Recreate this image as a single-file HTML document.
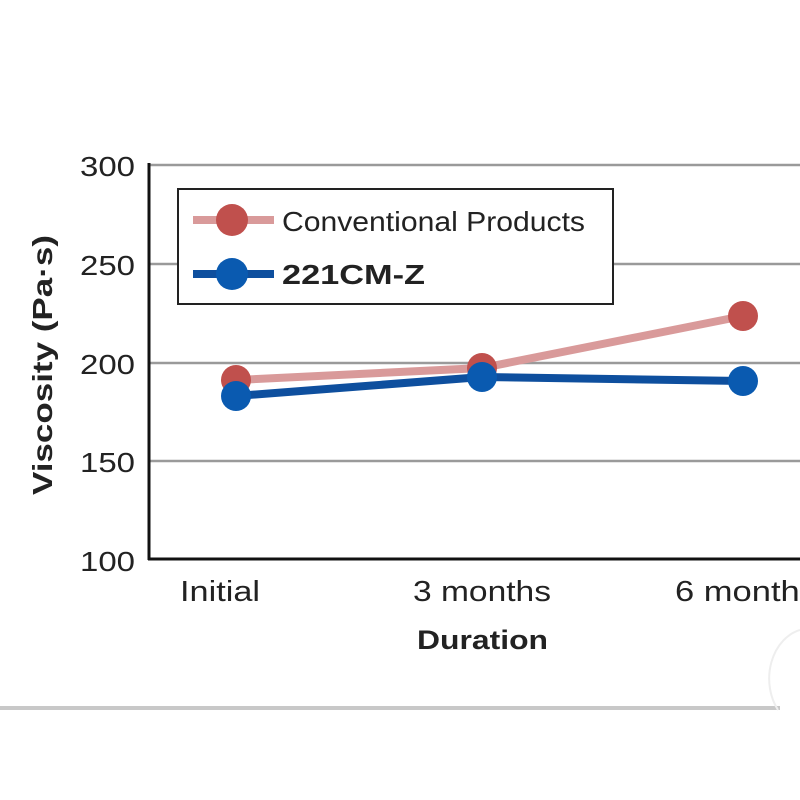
<!DOCTYPE html>
<html><head><style>
html,body{margin:0;padding:0;background:#fff;}
</style></head><body>
<svg width="800" height="800" xmlns="http://www.w3.org/2000/svg" style="display:block">
<rect width="800" height="800" fill="#fff"/>
<g stroke="#9a9a9a" stroke-width="2.5">
<line x1="150" y1="165" x2="800" y2="165"/>
<line x1="150" y1="264" x2="800" y2="264"/>
<line x1="150" y1="363" x2="800" y2="363"/>
<line x1="150" y1="461" x2="800" y2="461"/>
</g>
<line x1="149" y1="163" x2="149" y2="560" stroke="#111" stroke-width="3"/>
<line x1="148" y1="559" x2="800" y2="559" stroke="#111" stroke-width="3"/>
<g font-family="Liberation Sans, sans-serif" font-size="28" fill="#222">
<text x="80" y="176" textLength="55" lengthAdjust="spacingAndGlyphs">300</text>
<text x="80" y="275" textLength="55" lengthAdjust="spacingAndGlyphs">250</text>
<text x="80" y="374" textLength="55" lengthAdjust="spacingAndGlyphs">200</text>
<text x="80" y="472" textLength="55" lengthAdjust="spacingAndGlyphs">150</text>
<text x="80" y="571" textLength="55" lengthAdjust="spacingAndGlyphs">100</text>
</g>
<text transform="translate(52,495) rotate(-90)" font-family="Liberation Sans, sans-serif" font-size="28" font-weight="bold" fill="#222" textLength="260" lengthAdjust="spacingAndGlyphs">Viscosity (Pa·s)</text>
<g font-family="Liberation Sans, sans-serif" font-size="29" fill="#222">
<text x="180" y="601" textLength="80" lengthAdjust="spacingAndGlyphs">Initial</text>
<text x="413" y="601" textLength="138" lengthAdjust="spacingAndGlyphs">3 months</text>
<text x="675" y="601" textLength="142" lengthAdjust="spacingAndGlyphs">6 months</text>
</g>
<text x="417" y="649" font-family="Liberation Sans, sans-serif" font-size="27" font-weight="bold" fill="#222" textLength="131" lengthAdjust="spacingAndGlyphs">Duration</text>
<rect x="178" y="189" width="435" height="115" fill="#fff" stroke="#222" stroke-width="2"/>
<line x1="193" y1="220" x2="274" y2="220" stroke="#d99a9a" stroke-width="8"/>
<circle cx="232" cy="220" r="16" fill="#c0504d"/>
<text x="282" y="231" font-family="Liberation Sans, sans-serif" font-size="28" fill="#222" textLength="303" lengthAdjust="spacingAndGlyphs">Conventional Products</text>
<line x1="193" y1="274" x2="274" y2="274" stroke="#0e4f9e" stroke-width="8"/>
<circle cx="232" cy="274" r="16" fill="#0a5ab0"/>
<text x="282" y="284" font-family="Liberation Sans, sans-serif" font-size="28" font-weight="bold" fill="#222" textLength="143" lengthAdjust="spacingAndGlyphs">221CM-Z</text>
<polyline points="236,380 482,368 743,316" fill="none" stroke="#d99a9a" stroke-width="8"/>
<circle cx="236" cy="380" r="15" fill="#c0504d"/>
<circle cx="482" cy="368" r="15" fill="#c0504d"/>
<circle cx="743" cy="316" r="15" fill="#c0504d"/>
<polyline points="236,396 482,377 743,381" fill="none" stroke="#0e4f9e" stroke-width="8"/>
<circle cx="236" cy="396" r="15" fill="#0a5ab0"/>
<circle cx="482" cy="377" r="15" fill="#0a5ab0"/>
<circle cx="743" cy="381" r="15" fill="#0a5ab0"/>
<rect x="0" y="706" width="780" height="4" fill="#c8c8c8"/>
<path d="M800,630 A40,50 0 0 0 778,710" fill="none" stroke="#eeeeee" stroke-width="2"/>
</svg>
</body></html>
